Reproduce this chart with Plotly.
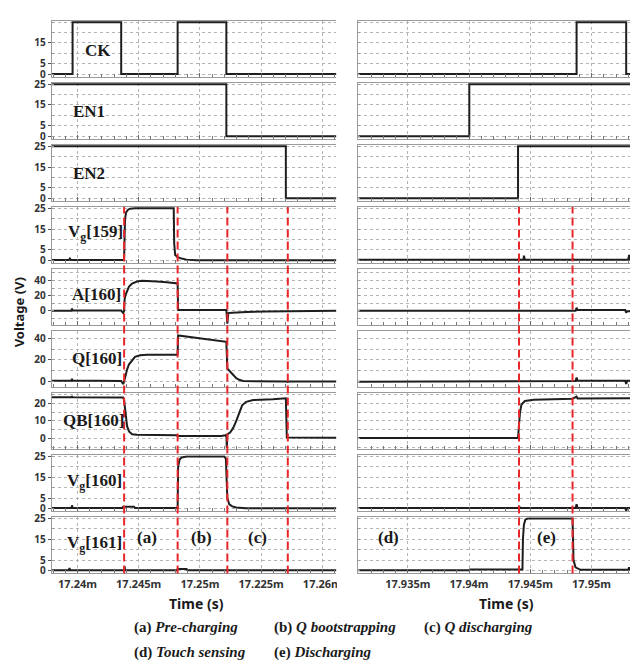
import plotly.graph_objects as go
from plotly.subplots import make_subplots

W, H = 638, 660

# ---------------- data (time in ms, voltage in V) ----------------
row_names = ["CK", "EN1", "EN2", "V<sub>g</sub>[159]", "A[160]", "Q[160]",
             "QB[160]", "V<sub>g</sub>[160]", "V<sub>g</sub>[161]"]

left_range = [17.23789, 17.26115]
right_range = [17.93095, 17.95404]
left_tickvals = [17.24, 17.245, 17.25, 17.255, 17.26]
left_ticktext = ["17.24m", "17.245m", "17.25m", "17.225m", "17.26m"]
right_tickvals = [17.935, 17.94, 17.945, 17.95]
right_ticktext = ["17.935m", "17.94m", "17.945m", "17.95m"]

left_phase_times = [17.24381, 17.24818, 17.25224, 17.25718]
right_phase_times = [17.94408, 17.94845]

# left column
ck_l_t = [17.23789, 17.23960, 17.23960, 17.24357, 17.24357, 17.24818, 17.24818, 17.25216, 17.25216, 17.26115]
ck_l_v = [0, 0, 25, 25, 0, 0, 25, 25, 0, 0]
en1_l_t = [17.23789, 17.25216, 17.25216, 17.26115]
en1_l_v = [25, 25, 0, 0]
en2_l_t = [17.23789, 17.25702, 17.25702, 17.26115]
en2_l_v = [25, 25, 0, 0]
vg159_l_t = [17.23789, 17.23930, 17.23938, 17.23946, 17.24373, 17.24381, 17.24385, 17.24389, 17.24397,
             17.24413, 17.24430, 17.24470, 17.24786, 17.24790, 17.24798, 17.24818, 17.24850, 17.24891,
             17.24972, 17.26115]
vg159_l_v = [0.1, 0.1, 0.8, 0.1, 0.1, 0.5, 12, 20, 23, 24.3, 24.8, 25, 25, 8, 2.5, 1.5, 0.8, 0.3, 0, 0]
a160_l_t = [17.23789, 17.23951, 17.23955, 17.23960, 17.24357, 17.24373, 17.24381, 17.24385, 17.24393,
            17.24405, 17.24421, 17.24446, 17.24486, 17.24527, 17.24567, 17.24648, 17.24729, 17.24810,
            17.24818, 17.24822, 17.25216, 17.25224, 17.25232, 17.25264, 17.25378, 17.25540, 17.25718,
            17.25783, 17.26115]
a160_l_v = [0, 0, 3, 0.5, 0.3, -3, 0, 15, 21, 27, 32, 36, 38.5, 39.5, 39.3, 38.5, 37.5, 36.5, 36, 1, 1,
            -17, -3, -2.6, -1.5, -1, -0.5, 0, 0]
q160_l_t = [17.23789, 17.23951, 17.23955, 17.23960, 17.24357, 17.24373, 17.24381, 17.24389, 17.24405,
            17.24421, 17.24446, 17.24470, 17.24511, 17.24567, 17.24810, 17.24818, 17.24822, 17.24891,
            17.25053, 17.25216, 17.25224, 17.25248, 17.25280, 17.25297, 17.25321, 17.25353, 17.25702,
            17.25718, 17.25730, 17.26115]
q160_l_v = [0.5, 0.5, 2.5, 0.8, 0.3, -2.5, 0, 4, 11, 16, 20, 23, 24.5, 25, 25, 25.5, 43, 42, 40, 37, 12,
            9, 5, 3, 1.5, 0.3, 0, -0.5, 0, 0]
qb160_l_t = [17.23789, 17.23951, 17.23955, 17.23960, 17.24373, 17.24381, 17.24389, 17.24397, 17.24405,
             17.24421, 17.24446, 17.24486, 17.24810, 17.24818, 17.25175, 17.25207, 17.25216, 17.25220,
             17.25224, 17.25248, 17.25272, 17.25297, 17.25321, 17.25345, 17.25378, 17.25435, 17.25596,
             17.25694, 17.25702, 17.25710, 17.26115]
qb160_l_v = [23.6, 23.6, 24.2, 23.6, 23.5, 22, 17, 11, 7, 4, 2.4, 2.1, 1.8, 1.3, 1.3, 1.8, 2, -5.5, 2.2,
             3.5, 6, 10, 15, 19, 21, 22, 22.5, 23, 23, 0.5, 0.3]
vg160_l_t = [17.23789, 17.23951, 17.23955, 17.23960, 17.24365, 17.24373, 17.24462, 17.24470, 17.24818,
             17.24822, 17.24834, 17.24850, 17.24891, 17.25199, 17.25212, 17.25216, 17.25224, 17.25240,
             17.25264, 17.25297, 17.25378, 17.26115]
vg160_l_v = [0.2, 0.2, 1.5, 0.2, 0.2, 0.8, 0.8, 0.2, 0.2, 20, 23.5, 24.5, 25, 25, 24, 12, 5, 2, 1, 0.5,
             0.1, 0.1]
vg161_l_t = [17.23789, 17.23930, 17.23935, 17.23940, 17.24381, 17.24385, 17.24389, 17.24810, 17.24818,
             17.24891, 17.24899, 17.26115]
vg161_l_v = [0.1, 0.1, 1.2, 0.1, 0.1, 2, 0.1, 0.1, 0.7, 0.7, 0.1, 0.1]

# right column
ck_r_t = [17.93095, 17.94878, 17.94878, 17.95283, 17.95283, 17.95404]
ck_r_v = [0, 0, 25, 25, 0, 0]
en1_r_t = [17.93095, 17.94002, 17.94002, 17.95404]
en1_r_v = [0, 0, 25, 25]
en2_r_t = [17.93095, 17.94400, 17.94400, 17.95404]
en2_r_v = [0, 0, 25, 25]
vg159_r_t = [17.93095, 17.94404, 17.94408, 17.94412, 17.94444, 17.94448, 17.94456, 17.94845, 17.94849,
             17.94853, 17.95299, 17.95307, 17.95315, 17.95404]
vg159_r_v = [0.2, 0.2, 1, 0.2, 0.2, 2.2, 0.2, 0.2, 0.8, 0.2, 0.2, 2.5, 0.2, 0.2]
a160_r_t = [17.93095, 17.94870, 17.94878, 17.94886, 17.95275, 17.95283, 17.95291, 17.95404]
a160_r_v = [0, 0, 4, 1, 1, -2.5, -0.5, -0.5]
q160_r_t = [17.93095, 17.94002, 17.94006, 17.94870, 17.94878, 17.94886, 17.95275, 17.95283, 17.95291,
            17.95404]
q160_r_v = [-0.3, -0.3, 0.3, 0.3, 3.7, 0.6, 0.6, -2.5, 0.5, 0.5]
qb160_r_t = [17.93095, 17.94400, 17.94408, 17.94416, 17.94428, 17.94456, 17.94529, 17.94664, 17.94845,
             17.94878, 17.94886, 17.95404]
qb160_r_v = [0.2, 0.2, 8, 15, 19.5, 21.5, 22.2, 22.6, 22.8, 24, 23, 23.1]
vg160_r_t = [17.93095, 17.94404, 17.94408, 17.94416, 17.94870, 17.94878, 17.94886, 17.95275, 17.95283,
             17.95291, 17.95404]
vg160_r_v = [0.2, 0.2, 1.2, 0.2, 0.2, 2, 0.2, 0.2, -1, 0.2, 0.2]
vg161_r_t = [17.93095, 17.94002, 17.94006, 17.94436, 17.94440, 17.94448, 17.94460, 17.94480, 17.94845,
             17.94849, 17.94853, 17.94869, 17.94910, 17.95299, 17.95307, 17.95315, 17.95404]
vg161_r_v = [0.1, 0.1, 0.5, 0.5, 15, 22, 24.5, 25, 25, 15, 5, 1.5, 0.3, 0.3, 1.5, 0.3, 0.3]

left_series = [(ck_l_t, ck_l_v), (en1_l_t, en1_l_v), (en2_l_t, en2_l_v), (vg159_l_t, vg159_l_v),
               (a160_l_t, a160_l_v), (q160_l_t, q160_l_v), (qb160_l_t, qb160_l_v),
               (vg160_l_t, vg160_l_v), (vg161_l_t, vg161_l_v)]
right_series = [(ck_r_t, ck_r_v), (en1_r_t, en1_r_v), (en2_r_t, en2_r_v), (vg159_r_t, vg159_r_v),
                (a160_r_t, a160_r_v), (q160_r_t, q160_r_v), (qb160_r_t, qb160_r_v),
                (vg160_r_t, vg160_r_v), (vg161_r_t, vg161_r_v)]

# y axis settings per row: (range, labelled tick values, grid step)
y_cfg = [
    ([-1.4, 25.6], [0, 5, 15], 5),
    ([-1.4, 25.6], [0, 5, 15, 25], 5),
    ([-1.4, 25.6], [0, 5, 15, 25], 5),
    ([-1.4, 25.6], [0, 5, 15, 25], 5),
    ([-19, 55], [0, 20, 40], 10),
    ([-5.5, 47], [0, 20, 40], 10),
    ([-6.3, 26], [0, 10, 20], 5),
    ([-1.4, 25.6], [0, 5, 15, 25], 5),
    ([-1.4, 25.6], [0, 5, 15, 25], 5),
]

# ---------------- figure ----------------
fig = make_subplots(rows=9, cols=2)

LINE = "#1e1e1e"
FRAME = "#9a9a9a"
GRID = "#b4b4b4"
TICKFONT = dict(family="Noto Sans", size=10, color="#333333", weight="bold")
XTICKFONT = dict(family="Noto Sans", size=11, color="#333333", weight="bold")

for i in range(9):
    r = i + 1
    for c, series in ((1, left_series), (2, right_series)):
        t, v = series[i]
        fig.add_trace(go.Scatter(x=t, y=v, mode="lines", line=dict(color=LINE, width=2),
                                 showlegend=False, hoverinfo="skip"), row=r, col=c)

    top = 7 + i * 63
    bot = top + 57
    ydom = [1 - bot / H, 1 - top / H]
    rng, tv, step = y_cfg[i]
    for c in (1, 2):
        fig.update_yaxes(domain=ydom, range=rng, tickmode="array", tickvals=tv,
                         ticktext=[str(x) for x in tv],
                         showticklabels=(c == 1), tickfont=TICKFONT,
                         ticks="outside" if c == 1 else "", ticklen=3, tickcolor="#555",
                         showgrid=True, gridcolor=GRID, griddash="dot", gridwidth=1,
                         zeroline=False, showline=True, linecolor=FRAME, linewidth=1, mirror=False,
                         minor=dict(tick0=0, dtick=step, ticks="inside", ticklen=2, tickcolor="#999",
                                    showgrid=True, gridcolor=GRID, griddash="dot", gridwidth=1),
                         fixedrange=True, row=r, col=c)
    fig.update_xaxes(domain=[44 / W, 331 / W], range=left_range, tickmode="array",
                     tickvals=left_tickvals, ticktext=left_ticktext, row=r, col=1)
    fig.update_xaxes(domain=[353 / W, 1.0], range=right_range, tickmode="array",
                     tickvals=right_tickvals, ticktext=right_ticktext, row=r, col=2)
    for c in (1, 2):
        fig.update_xaxes(showticklabels=(r == 9), tickfont=XTICKFONT,
                         ticks="inside", ticklen=4, tickcolor="#666",
                         showgrid=True, gridcolor=GRID, griddash="dot", gridwidth=1,
                         zeroline=False, showline=True, linecolor=FRAME, linewidth=1, mirror=True,
                         minor=dict(ticks="inside", ticklen=3, tickcolor="#777", dtick=0.001, showgrid=False),
                         fixedrange=True, row=r, col=c)

shapes = []
y_dash0 = 1 - 568 / H
y_dash1 = 1 - 196 / H
for t in left_phase_times:
    shapes.append(dict(type="line", xref="x", yref="paper", x0=t, x1=t, y0=y_dash0, y1=y_dash1,
                       line=dict(color="#e8262a", width=2, dash="8px,4px"), layer="above"))
for t in right_phase_times:
    shapes.append(dict(type="line", xref="x2", yref="paper", x0=t, x1=t, y0=y_dash0, y1=y_dash1,
                       line=dict(color="#e8262a", width=2, dash="8px,4px"), layer="above"))
# crop of the cut-off "17.26m" label between the columns
shapes.append(dict(type="rect", xref="paper", yref="paper", x0=331.5 / W, x1=352 / W,
                   y0=1 - 592 / H, y1=1 - 569 / H, fillcolor="white", line=dict(width=0), layer="above"))

annotations = []
SERIF = "Liberation Serif"
label_pos = [(76, 37), (63, 99), (63, 162), (58, 222), (62, 285), (62, 350), (53, 413), (57, 475), (57, 538)]
for name, (px, py) in zip(row_names, label_pos):
    annotations.append(dict(text="<b>%s</b>" % name, x=px / W, y=1 - py / H, xref="paper", yref="paper",
                            xanchor="left", yanchor="middle", showarrow=False,
                            font=dict(family=SERIF, size=17, color="#1a1a1a")))
phase_pos = [("(a)", 140, 532), ("(b)", 195, 532), ("(c)", 251, 532), ("(d)", 384, 532), ("(e)", 543, 532)]
for txt, px, py in phase_pos:
    annotations.append(dict(text="<b>%s</b>" % txt, x=px / W, y=1 - py / H, xref="paper", yref="paper",
                            xanchor="center", yanchor="middle", showarrow=False,
                            font=dict(family=SERIF, size=17, color="#1a1a1a")))
for px in (190, 502):
    annotations.append(dict(text="<b>Time (s)</b>", x=px / W, y=1 - 599 / H, xref="paper", yref="paper",
                            xanchor="center", yanchor="middle", showarrow=False,
                            font=dict(family="Noto Sans", size=14, color="#1a1a1a")))
annotations.append(dict(text="<b>Voltage (V)</b>", x=11 / W, y=1 - 303 / H, xref="paper", yref="paper",
                        xanchor="center", yanchor="middle", showarrow=False, textangle=-90,
                        font=dict(family="Noto Sans", size=13, color="#1a1a1a")))
captions = [("(a) <i>Pre-charging</i>", 125, 623), ("(b) <i>Q bootstrapping</i>", 266, 623),
            ("(c) <i>Q discharging</i>", 417, 623), ("(d) <i>Touch sensing</i>", 125, 648),
            ("(e) <i>Discharging</i>", 266, 648)]
for txt, px, py in captions:
    annotations.append(dict(text="<b>%s</b>" % txt, x=px / W, y=1 - py / H, xref="paper", yref="paper",
                            xanchor="left", yanchor="middle", showarrow=False,
                            font=dict(family=SERIF, size=15, color="#1a1a1a")))

fig.update_layout(width=W, height=H, margin=dict(l=0, r=0, t=0, b=0),
                  plot_bgcolor="white", paper_bgcolor="white",
                  shapes=shapes, annotations=annotations, showlegend=False)

fig.write_html("out.html")
